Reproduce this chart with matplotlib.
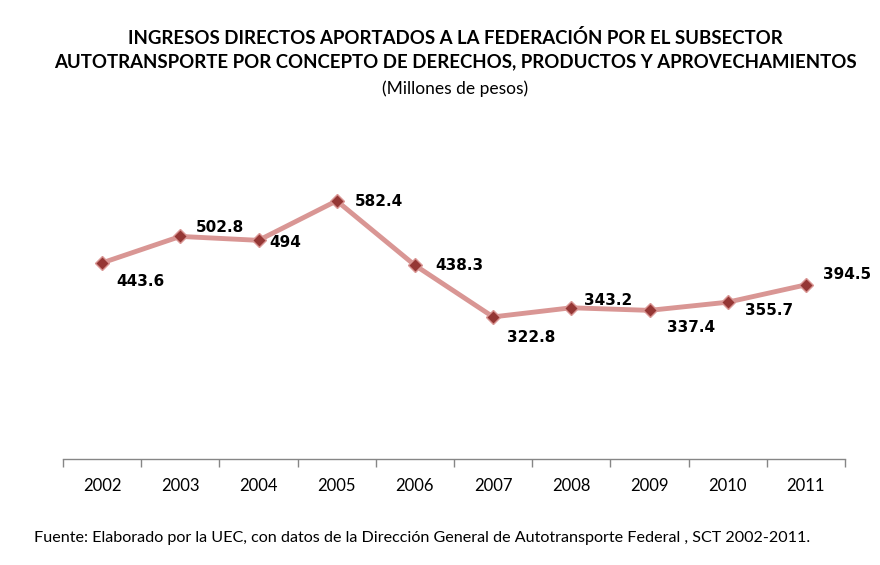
import matplotlib
matplotlib.use("Agg")
import matplotlib.pyplot as plt

years = ["2002", "2003", "2004", "2005", "2006", "2007", "2008", "2009", "2010", "2011"]
values = [443.6, 502.8, 494, 582.4, 438.3, 322.8, 343.2, 337.4, 355.7, 394.5]
labels = ["443.6", "502.8", "494", "582.4", "438.3", "322.8", "343.2", "337.4", "355.7", "394.5"]

# label offsets in pixels (layout)
label_offsets = [(38, -19), (40, 9), (27, -2), (42, -1), (44, 0), (38, -21), (37, 7), (42, -17), (41, -8), (41, 10)]

fig = plt.figure(figsize=(8.8, 5.65), dpi=100)
ax = fig.add_axes([63/880, 1-459/565, (845-63)/880, (459-146)/565])

x = list(range(len(years)))
ax.plot(x, values, color="#D99694", lw=3.5, zorder=2)
ax.plot(x, values, ls="none", marker="D", ms=7, mfc="#953735", mec="#D99694", mew=1, zorder=3)

for xi, v, lab, off in zip(x, values, labels, label_offsets):
    ax.annotate(lab, (xi, v), xytext=off, textcoords="offset pixels",
                ha="center", va="center", fontsize=11, fontweight="bold",
                family="DejaVu Sans", color="#000000")

ax.set_xlim(-0.5, len(years) - 0.5)
ax.set_ylim(5, 705)
ax.set_yticks([])
for s in ["top", "right", "left"]:
    ax.spines[s].set_visible(False)
ax.spines["bottom"].set_color("#868686")
ax.spines["bottom"].set_linewidth(1)

ax.set_xticks([i - 0.5 for i in range(len(years) + 1)], minor=False)
ax.set_xticklabels([])
ax.tick_params(axis="x", which="major", length=6, color="#868686", width=1, direction="out")
ax.set_xticks(x, minor=True)
ax.set_xticklabels(years, minor=True, fontsize=12, family="Lato")
ax.tick_params(axis="x", which="minor", length=0, pad=14)

fig.text(0.517, 1-38/565, "INGRESOS DIRECTOS APORTADOS A LA FEDERACIÓN POR EL SUBSECTOR",
         ha="center", va="center", fontsize=13.4, fontweight="bold", family="Lato")
fig.text(0.517, 1-62/565, "AUTOTRANSPORTE POR CONCEPTO DE DERECHOS, PRODUCTOS Y APROVECHAMIENTOS",
         ha="center", va="center", fontsize=13.4, fontweight="bold", family="Lato")
fig.text(0.517, 1-89/565, "(Millones de pesos)", ha="center", va="center", fontsize=12.5, family="Lato")

fig.text(34/880, 1-538/565,
         "Fuente: Elaborado por la UEC, con datos de la Dirección General de Autotransporte Federal , SCT 2002-2011.",
         ha="left", va="center", fontsize=11.6, family="Lato")

fig.savefig("out.png", dpi=100)
